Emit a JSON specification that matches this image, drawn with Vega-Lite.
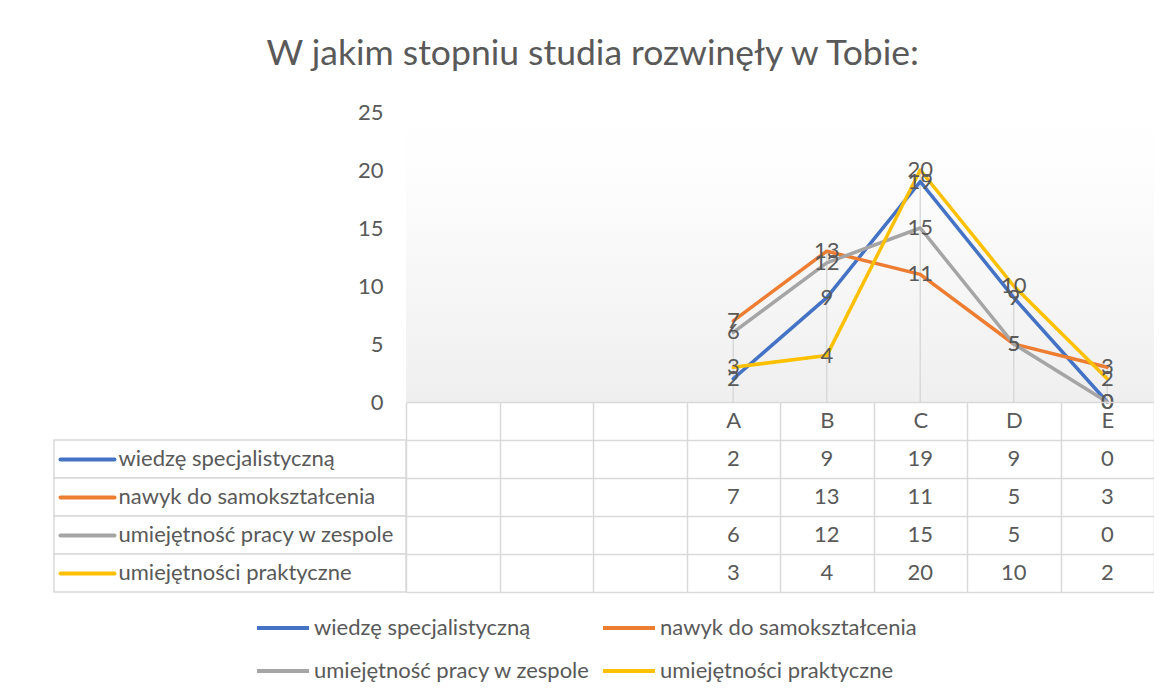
{
  "$schema": "https://vega.github.io/schema/vega-lite/v6.json",
  "padding": {"left": 53, "top": 36, "right": 0, "bottom": 0},
  "background": "white",
  "datasets": {
    "d": [
      {"seria": "wiedzę specjalistyczną", "kategoria": "A", "wartosc": 2},
      {"seria": "wiedzę specjalistyczną", "kategoria": "B", "wartosc": 9},
      {"seria": "wiedzę specjalistyczną", "kategoria": "C", "wartosc": 19},
      {"seria": "wiedzę specjalistyczną", "kategoria": "D", "wartosc": 9},
      {"seria": "wiedzę specjalistyczną", "kategoria": "E", "wartosc": 0},
      {"seria": "nawyk do samokształcenia", "kategoria": "A", "wartosc": 7},
      {"seria": "nawyk do samokształcenia", "kategoria": "B", "wartosc": 13},
      {"seria": "nawyk do samokształcenia", "kategoria": "C", "wartosc": 11},
      {"seria": "nawyk do samokształcenia", "kategoria": "D", "wartosc": 5},
      {"seria": "nawyk do samokształcenia", "kategoria": "E", "wartosc": 3},
      {"seria": "umiejętność pracy w zespole", "kategoria": "A", "wartosc": 6},
      {"seria": "umiejętność pracy w zespole", "kategoria": "B", "wartosc": 12},
      {"seria": "umiejętność pracy w zespole", "kategoria": "C", "wartosc": 15},
      {"seria": "umiejętność pracy w zespole", "kategoria": "D", "wartosc": 5},
      {"seria": "umiejętność pracy w zespole", "kategoria": "E", "wartosc": 0},
      {"seria": "umiejętności praktyczne", "kategoria": "A", "wartosc": 3},
      {"seria": "umiejętności praktyczne", "kategoria": "B", "wartosc": 4},
      {"seria": "umiejętności praktyczne", "kategoria": "C", "wartosc": 20},
      {"seria": "umiejętności praktyczne", "kategoria": "D", "wartosc": 10},
      {"seria": "umiejętności praktyczne", "kategoria": "E", "wartosc": 2}
    ]
  },
  "title": {
    "text": "W jakim stopniu studia rozwinęły w Tobie:",
    "fontSize": 35.5, "font": "Lato", "fontWeight": "normal", "color": "#595959",
    "anchor": "middle", "dx": -11, "baseline": "alphabetic", "offset": 1
  },
  "columns": 2,
  "spacing": 0,
  "bounds": "flush",
  "concat": [
    {
      "width": 352, "height": 290,
      "data": {"values": []},
      "mark": {"type": "point", "opacity": 0},
      "encoding": {}
    },
    {
      "width": 748, "height": 290,
      "layer": [
        {
          "data": {"values": [{}]},
          "mark": {
            "type": "rect",
            "color": {
              "gradient": "linear", "x1": 0, "y1": 0, "x2": 0, "y2": 1,
              "stops": [
                {"offset": 0, "color": "#ffffff"},
                {"offset": 0.24, "color": "#fdfdfd"},
                {"offset": 1, "color": "#efefef"}
              ]
            }
          },
          "encoding": {}
        },
        {
          "data": {"name": "d"},
          "transform": [{"aggregate": [{"op": "max", "field": "wartosc", "as": "maks"}], "groupby": ["kategoria"]}],
          "mark": {"type": "rule", "color": "#d9d9d9", "strokeWidth": 1.5},
          "encoding": {
            "x": {
              "field": "kategoria", "type": "nominal",
              "scale": {"type": "point", "domain": [" ", "  ", "   ", "A", "B", "C", "D", "E"], "padding": 0.5},
              "axis": {"orient": "bottom", "title": null, "domain": false, "ticks": false, "tickSize": 0, "grid": false, "labelPadding": 18, "labelBaseline": "middle", "labelFontSize": 22, "labelColor": "#595959", "labelAngle": 0}
            },
            "y": {"field": "maks", "type": "quantitative"},
            "y2": {"datum": 0}
          }
        },
        {
          "data": {"name": "d"},
          "mark": {"type": "line", "strokeWidth": 3.5, "strokeJoin": "round", "strokeCap": "round"},
          "encoding": {
            "x": {"field": "kategoria", "type": "nominal"},
            "y": {
              "field": "wartosc", "type": "quantitative",
              "scale": {"domain": [0, 25], "nice": false, "zero": true},
              "axis": {"title": null, "values": [0, 5, 10, 15, 20, 25], "domain": false, "ticks": false, "grid": false, "labelPadding": 23, "labelFontSize": 22, "labelColor": "#595959"}
            },
            "color": {
              "field": "seria", "type": "nominal",
              "scale": {
                "domain": ["wiedzę specjalistyczną", "nawyk do samokształcenia", "umiejętność pracy w zespole", "umiejętności praktyczne"],
                "range": ["#4472C4", "#ED7D31", "#A5A5A5", "#FFC000"]
              },
              "legend": {
                "orient": "none", "legendX": 201, "legendY": 488,
                "direction": "horizontal", "columns": 2, "title": null,
                "symbolType": "stroke", "symbolSize": 2704, "symbolStrokeWidth": 4,
                "labelFontSize": 22, "labelColor": "#595959", "labelFont": "Lato", "labelLimit": 0,
                "rowPadding": 4, "columnPadding": 4, "labelOffset": 3
              }
            }
          }
        },
        {
          "data": {"name": "d"},
          "mark": {"type": "text", "fontSize": 22, "color": "#595959", "font": "Lato", "baseline": "middle"},
          "encoding": {
            "x": {"field": "kategoria", "type": "nominal"},
            "y": {"field": "wartosc", "type": "quantitative"},
            "text": {"field": "wartosc", "type": "quantitative"}
          }
        }
      ]
    },
    {
      "width": 352, "height": 190,
      "data": {"name": "d"},
      "transform": [{"aggregate": [{"op": "count", "as": "n"}], "groupby": ["seria"]}],
      "mark": {"type": "rect", "fill": "white", "stroke": "#d9d9d9", "strokeWidth": 1.5},
      "encoding": {
        "y": {
          "field": "seria", "type": "nominal",
          "scale": {"type": "band", "domain": [" ", "wiedzę specjalistyczną", "nawyk do samokształcenia", "umiejętność pracy w zespole", "umiejętności praktyczne"], "paddingInner": 0, "paddingOuter": 0},
          "axis": {
            "orient": "left", "offset": -60, "title": null, "domain": false, "grid": false,
            "values": ["wiedzę specjalistyczną", "nawyk do samokształcenia", "umiejętność pracy w zespole", "umiejętności praktyczne"],
            "ticks": true, "tickSize": 54, "tickWidth": 4, "tickCap": "round",
            "tickColor": {
              "condition": [
                {"test": "datum.value === 'wiedzę specjalistyczną'", "value": "#4472C4"},
                {"test": "datum.value === 'nawyk do samokształcenia'", "value": "#ED7D31"},
                {"test": "datum.value === 'umiejętność pracy w zespole'", "value": "#A5A5A5"}
              ],
              "value": "#FFC000"
            },
            "labelAlign": "left", "labelPadding": -58, "labelFontSize": 22, "labelColor": "#595959",
            "labelBaseline": "middle", "labelLimit": 0
          }
        }
      }
    },
    {
      "width": 748, "height": 190,
      "data": {"name": "d"},
      "mark": {"type": "text", "fontSize": 22, "color": "#595959", "font": "Lato", "baseline": "middle"},
      "encoding": {
        "x": {
          "field": "kategoria", "type": "nominal",
          "scale": {"type": "band", "domain": [" ", "  ", "   ", "A", "B", "C", "D", "E"], "paddingInner": 0, "paddingOuter": 0},
          "axis": {"orient": "top", "title": null, "grid": true, "tickBand": "extent", "gridColor": "#d9d9d9", "gridWidth": 1.5, "labels": false, "ticks": false, "domain": false}
        },
        "y": {
          "field": "seria", "type": "nominal",
          "scale": {"type": "band", "domain": [" ", "wiedzę specjalistyczną", "nawyk do samokształcenia", "umiejętność pracy w zespole", "umiejętności praktyczne"], "paddingInner": 0, "paddingOuter": 0},
          "axis": {"title": null, "grid": true, "tickBand": "extent", "gridColor": "#d9d9d9", "gridWidth": 1.5, "labels": false, "ticks": false, "domain": false}
        },
        "text": {"field": "wartosc", "type": "quantitative"}
      }
    }
  ],
  "resolve": {"scale": {"x": "independent", "y": "independent"}, "axis": {"x": "independent", "y": "independent"}},
  "config": {
    "view": {"stroke": null},
    "font": "Lato",
    "axis": {"labelFont": "Lato"},
    "legend": {"labelFont": "Lato"}
  }
}
